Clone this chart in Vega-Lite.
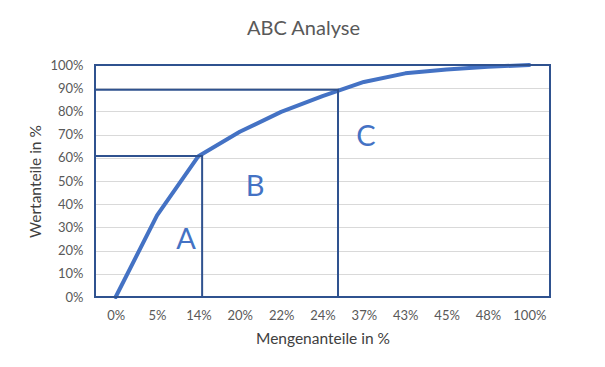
{
  "$schema": "https://vega.github.io/schema/vega-lite/v6.json",
  "width": 455,
  "height": 232,
  "autosize": "none",
  "padding": {"left": 95, "top": 65, "right": 55, "bottom": 70},
  "background": "white",
  "config": {
    "font": "Lato",
    "view": {"stroke": null},
    "axis": {"labelFont": "Lato", "titleFont": "Lato", "labelColor": "#595959", "titleColor": "#404040", "labelFontSize": 13, "titleFontSize": 15.5, "titleFontWeight": "normal", "ticks": false, "domain": false, "labelOverlap": false}
  },
  "title": {"text": "ABC Analyse", "fontSize": 20, "fontWeight": "normal", "color": "#595959", "font": "Lato", "offset": 20, "dx": -19},
  "datasets": {
    "curve": [
      {"menge": "0%", "wert": 0},
      {"menge": "5%", "wert": 0.352},
      {"menge": "14%", "wert": 0.607},
      {"menge": "20%", "wert": 0.712},
      {"menge": "22%", "wert": 0.798},
      {"menge": "24%", "wert": 0.866},
      {"menge": "37%", "wert": 0.927},
      {"menge": "43%", "wert": 0.964},
      {"menge": "45%", "wert": 0.981},
      {"menge": "48%", "wert": 0.992},
      {"menge": "100%", "wert": 1.0}
    ],
    "boxes": [
      {"x1": 0, "x2": 2.59, "wert": 0, "wert2": 0.608},
      {"x1": 0, "x2": 5.875, "wert": 0, "wert2": 0.893},
      {"x1": 0, "x2": 11, "wert": 0, "wert2": 1}
    ],
    "letters": [
      {"pos": 2.2, "wert": 0.245, "label": "A"},
      {"pos": 3.87, "wert": 0.474, "label": "B"},
      {"pos": 6.55, "wert": 0.69, "label": "C"}
    ]
  },
  "encoding": {
    "y": {"field": "wert", "type": "quantitative",
          "scale": {"domain": [0, 1], "nice": false},
          "axis": {"title": "Wertanteile in %", "format": ".0%", "tickCount": 20, "values": [0, 0.1, 0.2, 0.3, 0.4, 0.5, 0.6, 0.7, 0.8, 0.9, 1], "labelPadding": 12, "titlePadding": 6, "gridColor": "#D9D9D9", "gridWidth": 1.2}}
  },
  "layer": [
    {
      "data": {"name": "curve"},
      "mark": {"type": "line", "color": "#4472C4", "strokeWidth": 4, "strokeCap": "round", "strokeJoin": "round"},
      "encoding": {
        "x": {"field": "menge", "type": "ordinal", "sort": null,
              "scale": {"type": "point", "padding": 0.5},
              "axis": {"title": "Mengenanteile in %", "labelAngle": 0, "labelPadding": 12, "titlePadding": 9}}
      }
    },
    {
      "data": {"name": "boxes"},
      "mark": {"type": "rect", "fill": null, "fillOpacity": 0, "stroke": "#2F528F", "strokeWidth": 2},
      "encoding": {
        "x": {"field": "x1", "type": "quantitative", "scale": {"domain": [0, 11], "nice": false, "zero": true}, "axis": null},
        "x2": {"field": "x2"},
        "y2": {"field": "wert2"}
      }
    },
    {
      "data": {"name": "letters"},
      "mark": {"type": "text", "color": "#4472C4", "fontSize": 29, "font": "Lato", "baseline": "middle", "align": "center"},
      "encoding": {
        "x": {"field": "pos", "type": "quantitative", "scale": {"domain": [0, 11], "nice": false}, "axis": null},
        "text": {"field": "label"}
      }
    }
  ],
  "resolve": {"scale": {"x": "independent"}, "axis": {"x": "independent"}}
}
